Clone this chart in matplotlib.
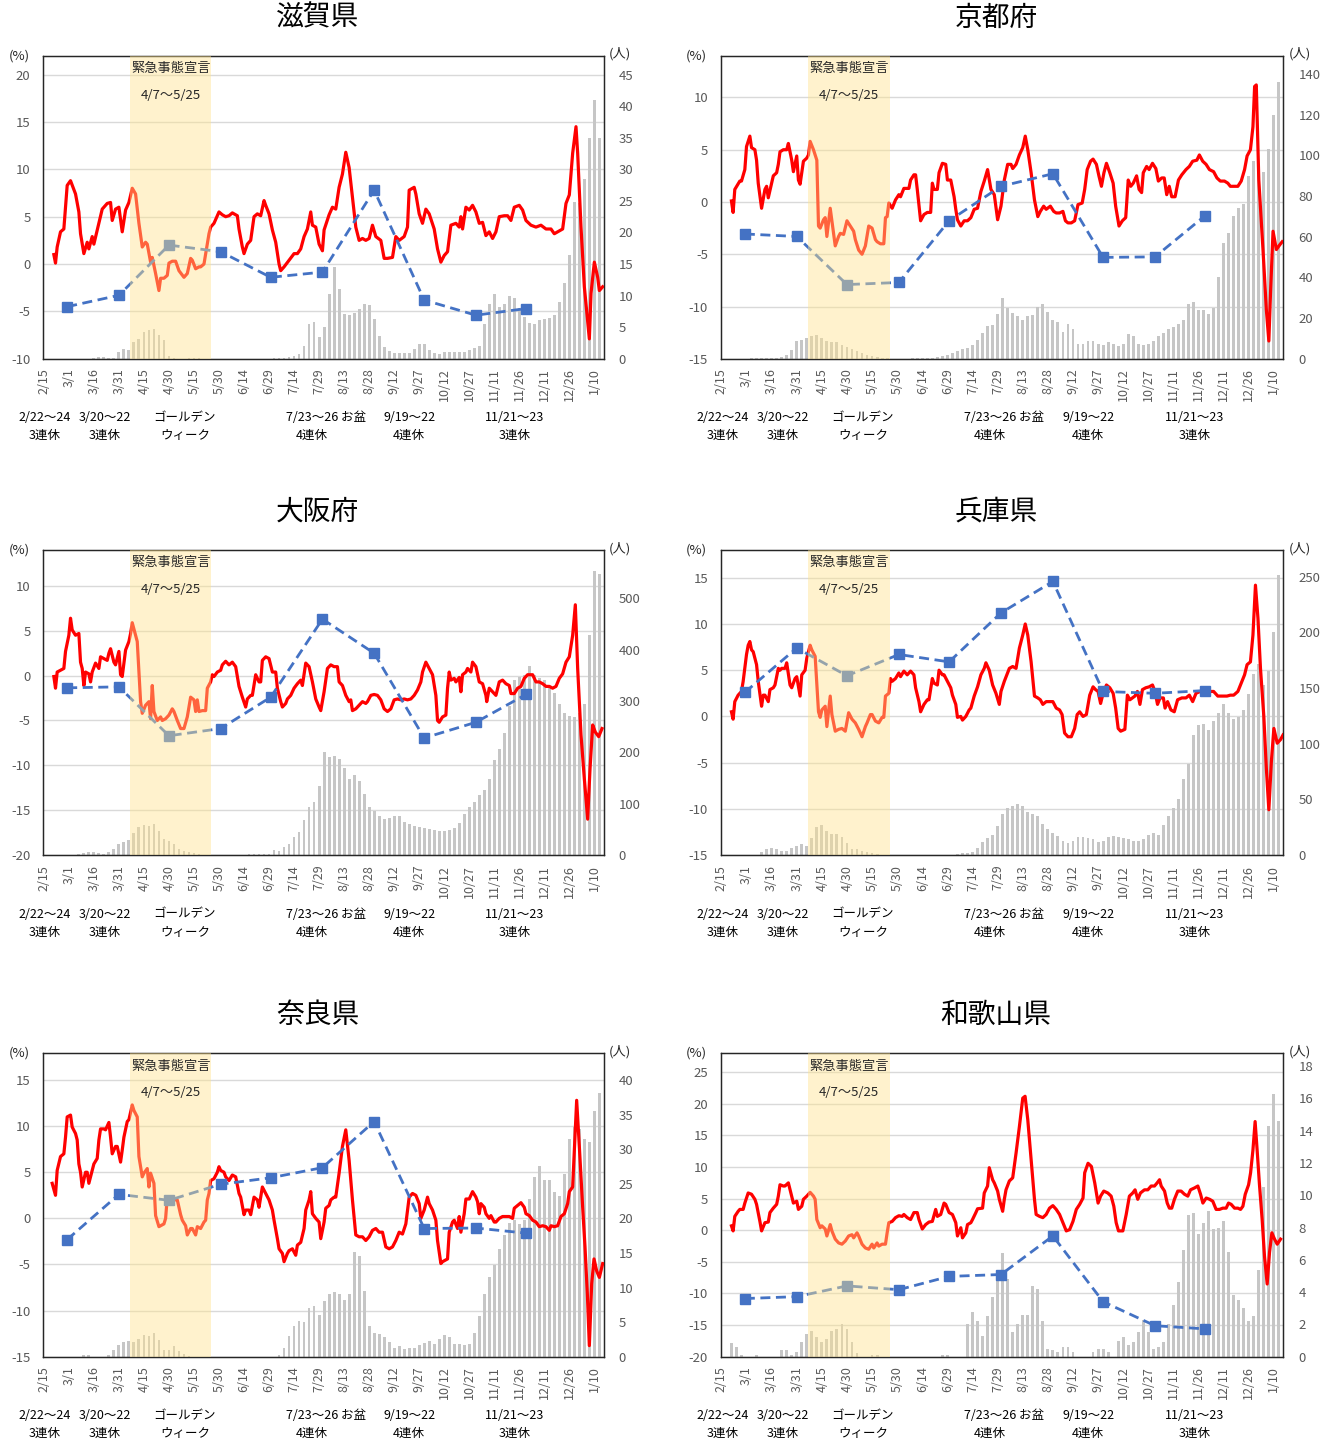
import numpy as np
import pandas as pd
import matplotlib
matplotlib.use("Agg")
import matplotlib.pyplot as plt
from matplotlib.lines import Line2D
from matplotlib.transforms import blended_transform_factory

plt.rcParams["font.family"] = ["Noto Sans CJK JP", "DejaVu Sans"]
plt.rcParams["axes.unicode_minus"] = False

START = pd.Timestamp("2020-02-15")
TICK_DATES = pd.date_range("2020-02-15", "2021-01-10", freq="15D")
MONTH_ENDS = [pd.Timestamp(2020, m, 1) + pd.offsets.MonthEnd(0) for m in range(2, 12)]
EMERGENCY = (pd.Timestamp("2020-04-07"), pd.Timestamp("2020-05-25"))

# 新規陽性者数（人）: 2/15 から 3日おき
CASE_DAYS = np.arange(0, 334, 3)

# ---- 滋賀県 ----
SHIGA_RATE = [(6, 1.0), (7, 0.1), (8, 1.8), (10, 3.4), (12, 3.7), (14, 8.3), (16, 8.8), (19, 7.4),
              (21, 5.5), (22, 3.2), (24, 1.1), (26, 2.3), (27, 1.6), (29, 2.9), (30, 2.1), (32, 3.6),
              (35, 5.8), (36, 6.0), (38, 6.4), (40, 6.5), (41, 4.6), (43, 5.8), (45, 6.0), (47, 3.4),
              (49, 5.7), (51, 6.5), (53, 8.0), (55, 7.4), (57, 4.3), (59, 1.8), (61, 2.3), (62, 2.1),
              (64, 0.2), (65, 0.7), (67, -1.0), (69, -2.8), (70, -1.5), (72, -1.5), (74, -1.2), (75, 0.1),
              (77, 0.3), (79, 0.3), (81, -0.7), (84, -1.4), (86, -1.0), (88, 0.6), (89, 0.4), (91, -0.5),
              (93, -0.3), (94, -0.3), (96, 0.0), (98, 2.1), (99, 3.2), (100, 3.9), (102, 4.3), (105, 5.5),
              (107, 5.2), (109, 5.0), (111, 5.1), (113, 5.4), (116, 5.1), (117, 3.7), (119, 1.8), (120, 1.1),
              (122, 2.1), (124, 2.5), (126, 5.0), (128, 5.3), (130, 5.1), (132, 6.7), (133, 6.2), (135, 5.3),
              (137, 3.6), (139, 2.3), (141, 0.0), (142, -0.7), (144, -0.3), (147, 0.4), (150, 1.1), (152, 1.1),
              (154, 1.6), (156, 2.9), (158, 3.7), (160, 5.5), (161, 4.1), (163, 3.9), (165, 2.1), (167, 1.4),
              (168, 3.6), (171, 5.2), (173, 6.0), (175, 5.8), (177, 8.1), (179, 9.5), (181, 11.8), (183, 10.2),
              (185, 7.1), (187, 3.9), (189, 2.5), (191, 2.7), (193, 2.5), (195, 2.7), (197, 4.1), (199, 2.9),
              (202, 2.5), (204, 0.6), (206, 0.6), (209, 0.7), (211, 2.9), (213, 2.5), (216, 2.9), (218, 3.9),
              (219, 7.8), (222, 8.1), (223, 7.4), (225, 5.3), (227, 4.3), (229, 5.8), (231, 5.3), (234, 3.7),
              (236, 1.6), (238, 0.2), (240, 0.9), (242, 1.3), (244, 4.1), (247, 4.3), (249, 3.9), (250, 5.0),
              (251, 3.7), (253, 6.0), (255, 5.7), (257, 6.2), (259, 5.5), (261, 4.3), (263, 4.4), (265, 3.0),
              (267, 3.4), (269, 2.7), (271, 3.4), (273, 5.0), (276, 5.1), (278, 5.1), (280, 4.6), (282, 6.0),
              (285, 6.2), (287, 5.7), (289, 4.6), (292, 4.1), (295, 3.9), (298, 4.1), (301, 3.7), (304, 3.7),
              (306, 3.2), (308, 3.4), (311, 3.7), (313, 6.4), (315, 7.3), (317, 11.7), (319, 14.5), (320, 11.7),
              (322, 3.9), (324, -2.4), (327, -7.9), (328, -3.1), (330, 0.2), (332, -1.4), (333, -2.8), (335, -2.4)]
SHIGA_MONTHLY = [-4.5, -3.3, 2.0, 1.3, -1.4, -0.85, 7.8, -3.8, -5.4, -4.7]
SHIGA_CASES = [0, 0, 0, 0, 0, 0, 0, 0, 0, 0,
               0.2, 0.3, 0.3, 0.1, 0.2, 1.0, 1.6, 1.4, 2.6, 3.2,
               4.3, 4.5, 4.7, 3.8, 2.9, 0.5, 0.2, 0, 0, 0.1,
               0.1, 0.1, 0, 0, 0, 0, 0, 0, 0, 0,
               0, 0, 0, 0, 0, 0, 0.1, 0.2, 0.1, 0.3,
               0.5, 0.7, 2.0, 5.5, 5.8, 3.5, 5.0, 10.3, 14.5, 11.0,
               7.1, 6.9, 7.2, 7.9, 8.6, 8.5, 6.3, 3.6, 1.9, 1.3,
               0.9, 0.9, 0.9, 0.9, 1.5, 2.4, 2.4, 1.4, 0.9, 0.8,
               1.0, 1.0, 1.0, 1.0, 1.1, 1.4, 1.7, 2.0, 5.5, 8.6,
               10.2, 8.2, 8.6, 10.0, 9.7, 8.0, 6.6, 5.6, 5.5, 6.1,
               6.3, 6.5, 7.0, 9.0, 12.0, 16.5, 24.8, 24.6, 28.5, 35.0,
               41.0, 35.0]

# ---- 京都府 ----
KYOTO_RATE = [(6, 0.1), (7, -1.0), (8, 1.2), (11, 2.0), (12, 2.0), (14, 3.1), (15, 5.3), (17, 6.3),
              (18, 5.2), (20, 5.0), (21, 4.0), (22, 1.8), (24, -0.6), (26, 1.2), (27, 1.5), (28, 0.4),
              (30, 1.8), (31, 2.5), (33, 2.8), (34, 3.6), (35, 4.8), (37, 5.0), (39, 5.0), (40, 5.6),
              (42, 4.0), (43, 2.9), (45, 4.4), (46, 2.1), (47, 1.7), (49, 3.9), (51, 4.2), (52, 4.5),
              (53, 5.8), (55, 5.0), (57, 4.0), (58, -2.3), (59, -2.5), (61, -1.7), (62, -1.5), (63, -3.3),
              (65, -0.6), (66, -1.8), (68, -4.2), (70, -3.3), (71, -3.0), (73, -3.1), (75, -1.8), (77, -2.3),
              (79, -2.8), (80, -3.6), (82, -4.6), (84, -5.0), (86, -4.2), (88, -2.3), (90, -2.5), (92, -3.6),
              (93, -3.8), (95, -4.0), (97, -4.0), (98, -1.5), (99, -1.4), (100, -0.1), (102, -0.6), (104, 0.2),
              (106, 0.7), (107, 0.5), (109, 1.3), (112, 1.3), (113, 2.1), (115, 2.6), (116, 2.6), (117, 1.2),
              (119, -1.8), (121, -1.2), (123, -1.0), (125, -1.0), (126, 1.8), (127, 1.2), (129, 1.2), (130, 2.8),
              (132, 3.7), (134, 3.6), (135, 2.1), (137, 2.1), (139, 0.5), (140, -0.7), (141, -1.7), (143, -2.3),
              (145, -1.8), (147, -1.8), (149, -1.5), (151, -0.7), (153, -0.6), (155, 1.0), (157, 2.0), (159, 3.1),
              (161, 1.2), (163, 0.7), (165, -1.7), (167, -0.4), (169, 2.1), (171, 3.6), (173, 3.6), (174, 3.2),
              (176, 3.6), (178, 4.5), (180, 5.2), (181.5, 6.3), (183, 5.0), (185, 2.8), (187, 0.2), (189, -1.4),
              (190.5, -0.9), (192.5, -0.4), (194, -0.7), (196.5, -0.4), (198.5, -0.9), (200, -1.05), (202, -1.05),
              (204, -0.9), (205.5, -1.8), (207, -2.0), (209, -2.0), (211, -1.8), (213, -0.25), (215.5, -0.1),
              (217, 1.2), (218.5, 3.1), (220.5, 3.9), (222, 4.1), (224, 3.6), (225.5, 2.5), (227, 1.5),
              (228.5, 2.8), (230, 3.7), (232, 2.8), (234, 1.8), (235.5, -0.4), (237.5, -2.3), (239.5, -1.8),
              (241.5, -1.5), (243, 2.1), (244.5, 1.5), (246, 1.8), (248, 2.5), (249.5, 1.2), (251, 0.9),
              (252, 2.8), (254, 3.4), (255.5, 3.1), (257.5, 3.7), (259.5, 3.2), (261, 2.0), (263, 2.3),
              (264.5, 2.3), (266, 0.7), (267.5, 1.5), (269, 0.5), (271, 0.5), (273, 2.1), (275, 2.6),
              (277.5, 3.1), (279.5, 3.4), (281.5, 3.9), (284, 4.0), (285.5, 4.5), (287.5, 3.9), (289.5, 3.6),
              (291.5, 3.1), (294, 2.9), (296, 2.3), (298, 2.0), (300.5, 2.0), (302.5, 1.8), (304, 1.5),
              (306, 1.5), (308.5, 1.5), (310.5, 2.0), (312.5, 3.1), (314, 4.4), (316, 5.0), (317.5, 7.2),
              (318.5, 11.05), (319.5, 11.2), (321, 2.1), (323.5, -4.55), (325.5, -10.3), (327, -13.3),
              (328, -8.7), (329.5, -2.8), (331.5, -4.55), (333.5, -4.1), (335, -3.8)]
KYOTO_MONTHLY = [-3.06, -3.3, -7.9, -7.7, -1.8, 1.5, 2.7, -5.3, -5.25, -1.3]
KYOTO_CASES = [0, 0, 0, 0, 0, 0, 0.4, 0.5, 0.5, 0.5,
               0.5, 0.5, 0.8, 2.0, 4.5, 8.5, 9.3, 10.2, 11.2, 11.8,
               10.2, 8.8, 8.3, 8.0, 6.9, 5.6, 5.0, 3.8, 2.8, 2.1,
               1.3, 1.0, 0.5, 0.2, 0, 0, 0, 0, 0.3, 0.4,
               0.4, 0.5, 0.5, 0.9, 1.5, 2.1, 3.0, 3.8, 4.6, 5.3,
               6.8, 9.3, 12.8, 16.0, 16.5, 22.0, 30.0, 25.0, 22.5, 21.0,
               19.0, 20.8, 21.5, 25.5, 27.0, 23.0, 19.0, 18.0, 13.0, 17.0,
               14.5, 7.5, 7.3, 8.5, 8.5, 7.2, 7.0, 8.1, 7.5, 6.5,
               7.5, 12.0, 11.0, 7.5, 7.0, 7.3, 8.5, 11.0, 12.9, 14.6,
               15.7, 17.0, 19.0, 27.0, 28.0, 24.0, 24.0, 22.0, 25.0, 40.0,
               57.0, 62.0, 70.0, 74.0, 76.0, 90.0, 97.0, 92.0, 92.0, 103.0,
               120.0, 136.0]

# ---- 大阪府 ----
OSAKA_RATE = [(6, -0.1), (7, -1.4), (8, 0.4), (10, 0.6), (12, 0.8), (13, 2.7), (15, 4.5), (16, 6.4),
              (17, 5.1), (19, 4.5), (21, 4.7), (22, 1.5), (23, 0.8), (24, -1.1), (25, 0.4), (27, 0.2),
              (28, -0.7), (29, 0.4), (31, 1.4), (33, 0.8), (34, 2.1), (36, 1.9), (38, 1.7), (39, 2.5),
              (40, 3.0), (42, 1.5), (43, 1.2), (45, 2.7), (46, 0.1), (47, -0.1), (49, 2.85), (51, 3.8),
              (52, 4.7), (53, 5.9), (55, 4.5), (56, 3.8), (58, -2.9), (59, -4.2), (61, -3.3), (63, -2.9),
              (64, -4.8), (65, -1.1), (66, -4.0), (68, -5.0), (70, -4.6), (71, -5.0), (73, -4.8), (75, -4.4),
              (77, -3.7), (78, -4.0), (80, -5.0), (82, -5.9), (84, -5.9), (86, -4.6), (88, -2.4), (90, -2.7),
              (91, -4.0), (92, -2.7), (93, -4.0), (95, -3.9), (97, -3.9), (98, -1.4), (100, -0.7), (101, 0.1),
              (102, -0.1), (104, 0.4), (106, 0.6), (107, 1.2), (109, 1.6), (111, 1.2), (113, 1.5), (115, 1.0),
              (117, -1.2), (119, -2.4), (121, -3.5), (122, -2.6), (124, -2.2), (125, -2.2), (127, 0.1),
              (129, -0.7), (130, -0.7), (131, 1.7), (133, 2.1), (135, 1.9), (137, 0.4), (139, 0.4), (140, -1.4),
              (142, -2.9), (143, -3.5), (145, -3.1), (146, -2.6), (148, -2.2), (150, -1.4), (152, -0.9),
              (154, -0.5), (155, -1.1), (157, 1.4), (159, 1.0), (161, -0.7), (163, -2.6), (165, -3.5),
              (166, -3.9), (168, -1.8), (170, 0.8), (172, 1.2), (174, 1.0), (176, 1.0), (177, -0.7),
              (179, -1.1), (181, -2.2), (183, -2.9), (184, -2.7), (185, -3.9), (187, -3.7), (189, -3.3),
              (191, -2.9), (193, -3.1), (194, -2.9), (196, -2.2), (198, -2.1), (200, -2.2), (202, -2.7),
              (204, -3.7), (206, -4.0), (208, -3.7), (210, -2.7), (212, -2.6), (214, -2.7), (216, -2.6),
              (218, -2.7), (220, -2.6), (222, -2.2), (224, -1.6), (226, -0.7), (227, 0.4), (229, 1.5),
              (231, 0.8), (233, 0.1), (235, -2.2), (236, -5.0), (237, -5.2), (239, -4.6), (241, -4.4),
              (242, -1.4), (243, 0.4), (244, -0.5), (246, -0.3), (247, -0.7), (249, -0.2), (250, -1.8),
              (251, 0.1), (253, 0.4), (254, 0.8), (256, 0.4), (257, 1.5), (259, 1.0), (261, -0.7), (263, -0.9),
              (265, -2.2), (265.5, -2.9), (267, -1.4), (269, -1.8), (271, -2.2), (273, -0.7), (275, -0.5),
              (277, -0.9), (279, -1.1), (280, -2.0), (282, -2.0), (284, -1.4), (286, -1.2), (288, -0.3),
              (290, 0.1), (293, 0.1), (295, -0.7), (297, -0.7), (299, -0.9), (301, -1.2), (303, -1.2),
              (305, -1.4), (307, -1.2), (309, -0.3), (311, 0.2), (313, 1.5), (315, 2.1), (317, 4.5),
              (318.6, 7.9), (320, 0.8), (322, -6.6), (324, -11.5), (326, -16.0), (327.4, -10.4), (329, -5.5),
              (330.6, -6.3), (332.6, -6.8), (334.6, -5.9)]
OSAKA_MONTHLY = [-1.36, -1.25, -6.7, -5.9, -2.4, 6.3, 2.5, -6.95, -5.2, -2.1]
OSAKA_CASES = [0, 0, 0, 0, 0, 0, 0, 2, 4, 5,
               5, 4, 3, 5, 11, 21, 26, 29, 42, 54,
               58, 57, 60, 47, 32, 27, 21, 11, 8, 6,
               4, 2, 1, 0, 0, 0, 0, 0, 1, 1,
               1, 2, 2, 2, 2, 3, 9, 8, 16, 21,
               35, 44, 68, 93, 104, 135, 200, 190, 192, 188,
               170, 148, 155, 145, 119, 93, 85, 76, 71, 73,
               77, 76, 65, 60, 56, 54, 52, 50, 48, 47,
               47, 48, 52, 63, 80, 93, 104, 116, 127, 148,
               185, 207, 238, 290, 341, 346, 351, 369, 351, 344,
               341, 330, 315, 295, 276, 271, 269, 276, 295, 429,
               554, 547]

# ---- 兵庫県 ----
HYOGO_RATE = [(6, 0.5), (7, -0.3), (8, 1.6), (10, 2.3), (12, 2.7), (13, 3.8), (15, 6.7), (16, 7.7),
              (17, 8.1), (18, 7.2), (19, 7.0), (21, 5.6), (22, 3.8), (24, 1.1), (25, 2.3), (26, 2.3),
              (28, 1.6), (29, 2.9), (31, 3.1), (32, 3.4), (34, 5.2), (35, 5.0), (36, 5.2), (38, 5.2),
              (39, 5.8), (41, 3.4), (42, 3.1), (44, 4.1), (45, 4.3), (47, 2.2), (48, 4.5), (50, 5.0),
              (51, 6.3), (53, 7.7), (54, 7.2), (56, 6.5), (58, 0.5), (59, -0.1), (60, 0.7), (62, 1.1),
              (63, -1.1), (65, 2.2), (66, 0.2), (68, -1.6), (70, -1.4), (72, -1.3), (74, -1.6), (76, 0.4),
              (78, -0.3), (80, -0.7), (82, -1.4), (84, -2.2), (86, -1.1), (87, -0.7), (89, 0.2), (90, 0.2),
              (92, -0.5), (94, -0.7), (96, -0.1), (97, -0.1), (98, 2.2), (100, 2.5), (101, 4.1), (102, 3.8),
              (104, 4.1), (106, 4.7), (107, 4.3), (109, 4.9), (111, 4.5), (113, 4.9), (115, 4.5), (116, 3.1),
              (118, 1.6), (119, 0.5), (121, 1.3), (123, 1.8), (124, 1.8), (126, 4.1), (127, 3.6), (129, 3.4),
              (130, 5.0), (132, 4.5), (133, 4.5), (135, 3.8), (137, 3.1), (138, 2.3), (140, 1.3), (141, -0.1),
              (143, 0.0), (144, -0.4), (146, 0.0), (148, 0.7), (149, 0.9), (151, 2.2), (153, 3.2), (155, 4.5),
              (157, 5.2), (158, 5.8), (160, 5.0), (162, 3.4), (164, 2.5), (166, 1.3), (167, 2.7), (169, 3.8),
              (172, 5.2), (174, 5.4), (176, 5.2), (178, 7.4), (180, 8.8), (181.5, 10.0), (183, 8.8), (185, 5.9),
              (187, 2.2), (189, 2.0), (190.5, 1.8), (192, 1.3), (194, 1.6), (196, 1.6), (198, 1.6), (200, 0.9),
              (202, 0.7), (203.5, 0.2), (205, -1.8), (207, -2.2), (209, -2.2), (211, -1.3), (212.5, 0.2),
              (214, 0.5), (216, 0.0), (218, 0.2), (220, 2.3), (222, 3.2), (223.5, 2.9), (225, 2.7),
              (226.5, 1.4), (228, 2.5), (230, 3.4), (232, 3.1), (234, 2.5), (235.5, 0.9), (237, -1.3),
              (238.5, -1.6), (241, -1.4), (242.5, 2.3), (244, 1.8), (245.5, 2.0), (247, 2.2), (248.5, 2.7),
              (250, 1.3), (251.5, 2.9), (253.5, 3.1), (255.5, 3.2), (257.5, 3.4), (259, 2.7), (260.5, 1.3),
              (262, 2.0), (264, 2.0), (265, 0.9), (266.5, 1.6), (268.5, 0.7), (270.5, 0.5), (272.5, 1.8),
              (275, 2.0), (277.5, 2.0), (279.5, 2.3), (281.5, 1.6), (283.5, 2.5), (286, 2.7), (288.5, 2.7),
              (291.5, 2.7), (294, 2.7), (296.5, 2.2), (299, 2.2), (302, 2.2), (304, 2.3), (306, 2.3),
              (308.5, 2.7), (310.5, 3.6), (312.5, 4.5), (314, 5.6), (316, 5.9), (317.5, 8.8), (319, 14.2),
              (320.5, 10.6), (322, 5.2), (324, 0.0), (325.5, -5.6), (327, -10.1), (328.5, -4.9), (330, -1.3),
              (332, -2.9), (334, -2.5), (335.5, -2.0)]
HYOGO_MONTHLY = [2.6, 7.4, 4.4, 6.7, 5.9, 11.2, 14.6, 2.7, 2.5, 2.8]
HYOGO_CASES = [0, 0, 0, 0, 0, 0, 0, 0, 3, 5,
               6, 5, 4, 3.6, 6.6, 8, 9.6, 8.5, 15, 25,
               27, 22, 19, 19, 16, 11, 5.5, 5, 4, 3,
               1.5, 0.5, 0, 0, 0, 0, 0, 0, 0, 0,
               0, 0, 0, 0, 0, 0, 0, 1, 2, 2,
               2.5, 6, 12, 15, 18, 26, 37, 42, 44, 46,
               44, 39, 37, 35, 28, 23, 20, 17, 13, 11,
               13, 16, 16, 15, 14, 12, 13, 16, 17, 16,
               15, 14, 13, 13, 14, 18, 20, 18, 27, 35,
               42, 50, 68, 82, 108, 117, 118, 112, 120, 128,
               136, 128, 122, 124, 130, 145, 163, 172, 153, 165,
               200, 252]

# ---- 奈良県 ----
NARA_RATE = [(5, 3.8), (7, 2.5), (8, 5.2), (10, 6.7), (12, 7.0), (13, 8.8), (14, 11.0), (16, 11.2),
             (17, 9.9), (19, 9.2), (20, 8.5), (21, 5.9), (22, 5.0), (23, 3.4), (25, 5.0), (26, 5.0),
             (27, 3.8), (29, 5.2), (30, 5.9), (32, 6.5), (33, 8.5), (34, 9.7), (36, 9.7), (37, 9.6),
             (39, 10.4), (40, 8.8), (41, 7.0), (43, 7.8), (44, 7.8), (46, 6.1), (47, 7.4), (48, 8.8),
             (50, 10.5), (51, 10.7), (53, 12.3), (54, 11.7), (56, 11.0), (57, 6.7), (59, 4.5), (60, 4.9),
             (62, 5.4), (63, 3.4), (64, 4.9), (66, 3.8), (67, 0.3), (69, -0.9), (70, -0.8), (72, -0.6),
             (73, 0.0), (74, 2.3), (76, 2.0), (77, 2.3), (79, 2.0), (80, 2.0), (82, 0.4), (83, -0.2),
             (85, -0.8), (86, -1.8), (88, -1.1), (89, -1.1), (91, -1.8), (92, -0.9), (94, -1.1), (96, -0.4),
             (97, -0.2), (98, 2.0), (99, 2.7), (100, 4.1), (102, 4.3), (104, 5.0), (105, 5.6), (106, 5.2),
             (108, 5.0), (109, 4.5), (111, 4.1), (113, 4.7), (115, 4.5), (117, 2.7), (118, 2.3), (120, 0.4),
             (121, 0.9), (123, 0.9), (124, 0.4), (126, 2.3), (128, 2.0), (129, 1.2), (131, 3.4), (133, 2.7),
             (135, 2.0), (137, 0.9), (138, -0.2), (140, -2.2), (141, -3.3), (143, -3.8), (144, -4.7),
             (146, -3.8), (147, -3.5), (149, -3.3), (151, -4.0), (152, -2.9), (154, -2.6), (156, -1.1),
             (157, 0.9), (159, 2.0), (160, 2.9), (161, 0.5), (163, 0.0), (165, -0.4), (166, -2.2),
             (168, -0.4), (169, 1.1), (171, 1.4), (172, 2.0), (174, 2.3), (175, 2.3), (177, 4.9), (179, 7.8),
             (181, 9.6), (183, 6.3), (185, 2.0), (187, -1.8), (189, -2.0), (191, -2.0), (193, -2.4),
             (195, -2.0), (197, -1.3), (199, -1.1), (201, -1.5), (203, -1.5), (205, -3.1), (207, -3.3),
             (209, -3.1), (211, -2.4), (213, -1.5), (215, -1.7), (217, -0.6), (219, 2.3), (221, 2.7),
             (223, 2.5), (225, 1.6), (226, 0.0), (228, 0.9), (230, 2.3), (231, 1.6), (233, 0.9), (235, -0.2),
             (236, -2.4), (238, -4.9), (239, -4.7), (240, -4.6), (242, -4.4), (243, -1.5), (245, -0.4),
             (246, -0.2), (248, -1.1), (249, 0.2), (250, -1.5), (252, 0.5), (253, 2.1), (255, 2.1),
             (257, 2.9), (259, 2.3), (260, 1.8), (261, 0.5), (262, 1.6), (264, 1.2), (265, 0.5), (267, 0.0),
             (268, 0.3), (270, -0.4), (271, -0.4), (273, 0.0), (275, 0.2), (277, 0.2), (279, 0.2), (281, 0.0),
             (282, 1.1), (284, 1.4), (286, 1.7), (288, 1.2), (289, 0.5), (291, 0.3), (293, -0.2), (295, -0.4),
             (297, -0.9), (299, -0.8), (301, -0.9), (303, -1.3), (304, -0.8), (306, -0.9), (308, -0.8),
             (310, 0.2), (312, 0.5), (314, 1.6), (315, 2.9), (317, 3.4), (318, 7.4), (319.4, 12.8),
             (321, 7.8), (323, 1.2), (324.4, -3.1), (325.8, -8.2), (327, -13.8), (328.4, -7.1),
             (329.8, -4.4), (331.4, -5.7), (333, -6.4), (335, -4.9)]
NARA_MONTHLY = [-2.3, 2.6, 1.96, 3.7, 4.4, 5.5, 10.5, -1.1, -1.05, -1.6]
NARA_CASES = [0, 0, 0, 0, 0, 0, 0, 0, 0.3, 0.3,
              0, 0, 0, 0.3, 0.9, 1.7, 2.1, 2.2, 2.1, 2.5,
              3.2, 3.0, 3.5, 2.4, 1.0, 1.0, 1.5, 0.8, 0.4, 0.1,
              0, 0, 0, 0, 0, 0, 0, 0, 0, 0,
              0, 0, 0, 0, 0, 0, 0, 0.3, 1.2, 3.0,
              4.5, 5.2, 5.0, 7.0, 7.3, 6.0, 8.0, 9.0, 9.3, 9.0,
              8.2, 9.0, 15.2, 14.5, 9.5, 4.5, 3.5, 3.3, 2.9, 2.1,
              1.2, 1.5, 1.1, 1.2, 1.3, 1.7, 2.0, 2.2, 1.9, 2.6,
              3.2, 2.8, 1.9, 1.8, 1.7, 1.9, 3.4, 5.9, 9.0, 11.5,
              13.2, 15.6, 17.6, 19.4, 19.8, 19.2, 19.8, 22.8, 26.0, 27.6,
              25.5, 25.6, 23.8, 23.3, 26.5, 31.5, 33.2, 33.0, 31.5, 31.0,
              35.5, 38.2]

# ---- 和歌山県 ----
WAKAYAMA_RATE = [(6, 0.7), (7, -0.1), (8, 2.2), (10, 3.0), (11, 3.3), (13, 3.3), (14, 4.3), (16, 5.9),
                 (18, 5.7), (20, 4.9), (21, 4.1), (23, 1.4), (24, -0.1), (26, 1.2), (28, 1.3), (29, 2.8),
                 (31, 3.5), (33, 4.1), (34, 5.4), (35, 7.2), (37, 7.0), (38, 7.0), (40, 7.5), (42, 5.4),
                 (43, 4.3), (45, 4.6), (46, 3.3), (48, 3.8), (49, 4.9), (51, 5.4), (53, 6.0), (55, 5.4),
                 (56, 4.9), (57, 1.7), (59, 0.4), (60, 0.7), (62, 0.2), (63, -0.9), (65, 0.9), (66, -0.1),
                 (68, -1.4), (70, -2.0), (72, -2.2), (74, -1.7), (76, -0.9), (78, -0.7), (79, -1.2), (81, -0.4),
                 (82, -0.9), (84, -2.2), (86, -2.8), (88, -3.0), (90, -2.2), (91, -2.8), (93, -2.0), (94, -2.5),
                 (96, -2.2), (98, -2.2), (99, -0.4), (100, 1.2), (102, 1.4), (104, 2.0), (106, 2.3), (108, 2.2),
                 (109, 2.5), (111, 2.0), (113, 1.7), (115, 2.8), (117, 2.8), (118, 1.7), (120, 0.2), (122, 0.9),
                 (124, 1.3), (126, 1.4), (128, 3.3), (129, 2.2), (131, 2.5), (133, 4.3), (134, 4.1), (136, 2.8),
                 (138, 2.5), (140, 1.2), (141, -0.9), (143, 0.4), (144, -1.2), (146, -0.4), (147, 0.9),
                 (149, 1.2), (150, 1.7), (152, 2.8), (153, 3.4), (156, 3.5), (157, 5.9), (159, 7.0), (160, 9.9),
                 (162, 8.0), (163, 7.5), (165, 6.2), (166, 4.9), (168, 3.0), (169, 4.9), (170, 6.4), (172, 7.8),
                 (174, 8.3), (176, 12.2), (178, 16.4), (180, 20.9), (181.4, 21.2), (183, 17.5), (185, 11.2),
                 (187, 4.9), (188, 2.5), (190, 2.2), (192, 2.0), (194, 2.5), (196, 3.5), (198, 3.9), (200, 3.3),
                 (202, 2.5), (204, 1.2), (206, -0.1), (208, 0.1), (210, 1.4), (212, 3.3), (214, 4.1), (216, 5.1),
                 (217, 9.1), (219, 10.6), (221, 10.1), (223, 7.5), (225, 4.3), (226.5, 5.4), (228.4, 6.2),
                 (230.8, 5.9), (232.8, 5.4), (234.4, 3.8), (235.8, 1.2), (237.2, -0.1), (239.8, -0.1),
                 (241.8, 2.5), (243.7, 5.4), (245.7, 5.9), (247.1, 6.4), (248.7, 4.9), (250.3, 5.9),
                 (252.7, 6.4), (254.7, 6.4), (256.7, 7.0), (258.7, 7.0), (260.3, 7.5), (261.7, 8.0),
                 (262.7, 7.0), (264.7, 6.2), (266.3, 4.3), (267.6, 3.5), (269, 3.5), (270.6, 4.9),
                 (272.6, 6.2), (274.6, 6.2), (276.6, 5.7), (278.6, 5.4), (280.2, 6.4), (282.6, 6.7),
                 (284.6, 7.0), (286.2, 5.7), (287.6, 4.3), (289.6, 5.1), (291.6, 4.9), (293.5, 4.6),
                 (295.5, 3.3), (297.5, 3.3), (299.5, 3.5), (301.5, 3.5), (302.9, 4.3), (304.5, 4.1),
                 (306.5, 3.5), (308.5, 3.5), (310.1, 3.3), (311.5, 3.8), (312.9, 5.7), (314.9, 7.2),
                 (316.1, 9.1), (317.5, 12.7), (318.8, 17.2), (320, 12.7), (321.4, 7.2), (323, 1.7),
                 (324.4, -4.1), (326, -8.5), (327.4, -3.5), (328.8, -0.4), (330.4, -1.4), (332, -2.2),
                 (334, -1.4)]
WAKAYAMA_MONTHLY = [-10.8, -10.5, -8.8, -9.4, -7.3, -7.0, -0.9, -11.3, -15.1, -15.6]
WAKAYAMA_CASES = [0, 0, 0.85, 0.6, 0.1, 0, 0, 0.1, 0, 0,
                  0, 0, 0.4, 0.4, 0.1, 0.3, 0.9, 1.4, 1.6, 1.2,
                  0.9, 1.1, 1.6, 1.7, 2.0, 1.7, 0.9, 0.2, 0, 0,
                  0.1, 0.1, 0, 0, 0, 0, 0, 0, 0, 0,
                  0, 0, 0, 0, 0.1, 0.1, 0, 0, 0, 2.0,
                  2.8, 2.2, 1.3, 2.5, 3.7, 5.3, 6.4, 4.8, 1.5, 2.0,
                  2.6, 2.6, 4.4, 4.2, 2.2, 0.5, 0.4, 0.3, 0.6, 0.6,
                  0.3, 0, 0, 0, 0.3, 0.5, 0.5, 0.3, 0, 1.0,
                  1.2, 0.7, 0.9, 1.5, 2.3, 1.5, 0.5, 0.6, 0.9, 2.0,
                  3.2, 4.6, 6.6, 8.8, 8.9, 7.6, 8.3, 9.0, 7.9, 8.0,
                  8.4, 6.5, 3.8, 3.5, 3.0, 2.2, 2.5, 5.4, 10.5, 14.3,
                  16.3, 14.6]

HOLIDAYS = [("2/22～24", "3連休"), ("3/20～22", "3連休"), ("ゴールデン", "ウィーク"),
            ("7/23～26 お盆", "4連休"), ("9/19～22", "4連休"), ("11/21～23", "3連休")]

TICK_COLOR = "#595959"


def day_of(ts):
    return (ts - START).days


def draw_panel(fig, rect, title, rate, monthly, cases, left_lim, left_ticks, right_lim, right_ticks):
    ax = fig.add_axes(rect)      # 陽性者数（棒・右軸）
    axl = ax.twinx()             # 増減率（折れ線・左軸）
    ax.yaxis.set_ticks_position("right")
    axl.yaxis.set_ticks_position("left")

    ax.set_xlim(-0.5, 335.5)
    ax.set_ylim(*right_lim)
    axl.set_ylim(*left_lim)

    # 目盛線（左軸）を棒の後ろに
    trans = blended_transform_factory(ax.transAxes, axl.transData)
    for t in left_ticks:
        ax.add_artist(Line2D([0, 1], [t, t], transform=trans, color="#D9D9D9", lw=1.0, zorder=0.5))

    ax.bar(CASE_DAYS, cases, width=1.7, color="#C6C6C6", linewidth=0, zorder=2)

    days, vals = zip(*rate)
    axl.plot(days, vals, color="#FF0000", lw=2.3, solid_joinstyle="round", zorder=3)

    mdays = [day_of(d) for d in MONTH_ENDS]
    axl.plot(mdays, monthly, color="#4472C4", lw=2.0, dashes=(3.6, 2.0),
             marker="s", ms=6.5, mec="#4472C4", zorder=4)

    # 緊急事態宣言の期間
    e0, e1 = day_of(EMERGENCY[0]) - 0.5, day_of(EMERGENCY[1]) + 0.5
    axl.axvspan(e0, e1, color="#FFE38D", alpha=0.44, lw=0, zorder=5)
    tr_top = blended_transform_factory(axl.transData, axl.transAxes)
    xm = (e0 + e1) / 2
    axl.text(xm, 0.958, "緊急事態宣言", transform=tr_top, ha="center", va="center",
             fontsize=9.5, color="#262626", zorder=6)
    axl.text(xm, 0.87, "4/7～5/25", transform=tr_top, ha="center", va="center",
             fontsize=9.5, color="#262626", zorder=6)

    ax.set_xticks([day_of(d) for d in TICK_DATES])
    ax.set_xticklabels([f"{d.month}/{d.day}" for d in TICK_DATES], rotation=90)
    ax.tick_params(axis="x", length=0, pad=7, labelsize=9, labelcolor=TICK_COLOR)
    ax.set_yticks(right_ticks)
    ax.tick_params(axis="y", length=0, pad=11, labelsize=9.5, labelcolor=TICK_COLOR)
    axl.set_yticks(left_ticks)
    axl.tick_params(axis="y", length=0, pad=9, labelsize=9.5, labelcolor=TICK_COLOR)
    ax.set_ylim(*right_lim)
    axl.set_ylim(*left_lim)

    for a in (ax, axl):
        for s in a.spines.values():
            s.set_color("#262626")
            s.set_linewidth(0.9)

    axl.text(0.49, 1.125, title, transform=axl.transAxes, ha="center", va="center", fontsize=20)
    axl.text(-0.043, 1.0, "(%)", transform=axl.transAxes, ha="center", va="center",
             fontsize=9.5, color="#262626")
    axl.text(1.03, 1.005, "(人)", transform=axl.transAxes, ha="center", va="center",
             fontsize=9.5, color="#262626")

    # 休日の注記
    tr_bot = blended_transform_factory(ax.transData, ax.transAxes)
    xs = [(0.5, 0.5), (36.5, 36.5), (84.5, 85.0), (169.0, 160.5), (219.5, 219.0), (282.5, 282.5)]
    for (top, bottom), (x1, x2) in zip(HOLIDAYS, xs):
        ax.text(x1, -0.194, top, transform=tr_bot, ha="center", va="center", fontsize=9)
        ax.text(x2, -0.253, bottom, transform=tr_bot, ha="center", va="center", fontsize=9)


fig = plt.figure(figsize=(13.27, 14.49), dpi=100)

COL_X = [0.0324, 0.5430]
COL_W = [0.4224, 0.4239]
ROW_Y = [0.7524, 0.4099, 0.0637]
ROW_H = [0.2092, 0.2105, 0.2094]

panels = [
    ("滋賀県", SHIGA_RATE, SHIGA_MONTHLY, SHIGA_CASES,
     (-10, 22), np.arange(-10, 21, 5), (0, 48), np.arange(0, 46, 5)),
    ("京都府", KYOTO_RATE, KYOTO_MONTHLY, KYOTO_CASES,
     (-15, 14), np.arange(-15, 11, 5), (0, 149), np.arange(0, 141, 20)),
    ("大阪府", OSAKA_RATE, OSAKA_MONTHLY, OSAKA_CASES,
     (-20, 14), np.arange(-20, 11, 5), (0, 594), np.arange(0, 501, 100)),
    ("兵庫県", HYOGO_RATE, HYOGO_MONTHLY, HYOGO_CASES,
     (-15, 18), np.arange(-15, 16, 5), (0, 274), np.arange(0, 251, 50)),
    ("奈良県", NARA_RATE, NARA_MONTHLY, NARA_CASES,
     (-15, 17.9), np.arange(-15, 16, 5), (0, 43.9), np.arange(0, 41, 5)),
    ("和歌山県", WAKAYAMA_RATE, WAKAYAMA_MONTHLY, WAKAYAMA_CASES,
     (-20, 28), np.arange(-20, 26, 5), (0, 18.8), np.arange(0, 19, 2)),
]

for i, (title, rate, monthly, cases, llim, lt, rlim, rt) in enumerate(panels):
    r, c = divmod(i, 2)
    rect = [COL_X[c], ROW_Y[r], COL_W[c], ROW_H[r]]
    draw_panel(fig, rect, title, rate, monthly, cases, llim, lt, rlim, rt)

fig.savefig("out.png", dpi=100, facecolor="white")
